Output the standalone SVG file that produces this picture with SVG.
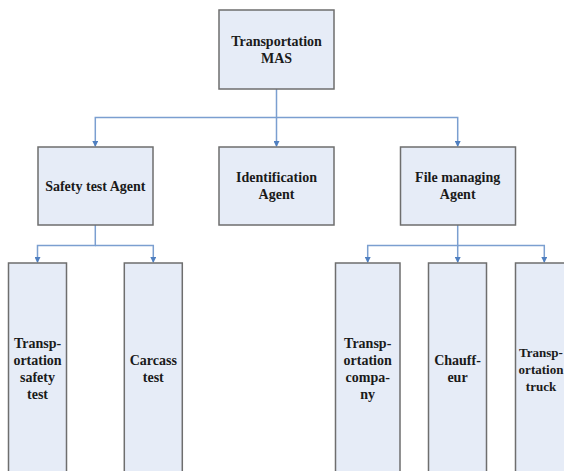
<svg xmlns="http://www.w3.org/2000/svg" width="564" height="471" viewBox="0 0 564 471">
<defs>
<style>
.box{fill:#E6ECF7;stroke:#6E6E6E;stroke-width:1.5}
.lbl{font-family:"Liberation Serif","Times New Roman",serif;font-weight:bold;font-size:14px;fill:#1a1a1a;text-anchor:middle}
.sm{font-size:13px}
.con{fill:none;stroke:#7B9FD0;stroke-width:1.5}
</style>
<marker id="ah" viewBox="0 0 6 6" refX="5" refY="3" markerWidth="4" markerHeight="4" orient="auto">
<path d="M0,0 L6,3 L0,6 z" fill="#4F7FC0"/>
</marker>
</defs>
<rect width="564" height="471" fill="#fff"/>
<g id="connectors">
<path class="con" d="M276.5,89 V117.5 H95.3 V146" marker-end="url(#ah)"/>
<path class="con" d="M276.5,117.5 V146" marker-end="url(#ah)"/>
<path class="con" d="M276.5,117.5 H457.7 V146" marker-end="url(#ah)"/>
<path class="con" d="M95.3,225 V245.5 H37.5 V262" marker-end="url(#ah)"/>
<path class="con" d="M95.3,245.5 H153.3 V262" marker-end="url(#ah)"/>
<path class="con" d="M457.7,225 V245.5 H367.7 V262" marker-end="url(#ah)"/>
<path class="con" d="M457.7,245.5 V262" marker-end="url(#ah)"/>
<path class="con" d="M457.7,245.5 H544.3 V262" marker-end="url(#ah)"/>
</g>
<g id="mas">
<rect class="box" x="219" y="10" width="115" height="79"/>
<text class="lbl" x="276.5" y="46">Transportation</text>
<text class="lbl" x="276.5" y="63">MAS</text>
</g>
<g id="safety">
<rect class="box" x="38" y="147" width="115" height="78"/>
<text class="lbl" x="95.3" y="191">Safety test Agent</text>
</g>
<g id="identification">
<rect class="box" x="219" y="147" width="115" height="78"/>
<text class="lbl" x="276.5" y="182">Identification</text>
<text class="lbl" x="276.5" y="199">Agent</text>
</g>
<g id="filemanaging">
<rect class="box" x="400.5" y="147" width="115" height="78"/>
<text class="lbl" x="457.7" y="182">File managing</text>
<text class="lbl" x="457.7" y="199">Agent</text>
</g>
<g id="tsafety">
<rect class="box" x="8.5" y="263" width="58" height="220"/>
<text class="lbl" x="37.5" y="348">Transp-</text>
<text class="lbl" x="37.5" y="365">ortation</text>
<text class="lbl" x="37.5" y="382">safety</text>
<text class="lbl" x="37.5" y="399">test</text>
</g>
<g id="carcass">
<rect class="box" x="124.3" y="263" width="58" height="220"/>
<text class="lbl" x="153.3" y="365">Carcass</text>
<text class="lbl" x="153.3" y="382">test</text>
</g>
<g id="tcompany">
<rect class="box" x="335.5" y="263" width="64.5" height="220"/>
<text class="lbl" x="367.7" y="348">Transp-</text>
<text class="lbl" x="367.7" y="365">ortation</text>
<text class="lbl" x="367.7" y="382">compa-</text>
<text class="lbl" x="367.7" y="399">ny</text>
</g>
<g id="chauffeur">
<rect class="box" x="428.5" y="263" width="58" height="220"/>
<text class="lbl" x="457.5" y="365">Chauff-</text>
<text class="lbl" x="457.5" y="382">eur</text>
</g>
<g id="ttruck">
<rect class="box" x="515.5" y="263" width="58" height="220"/>
<text class="lbl sm" x="541" y="357">Transp-</text>
<text class="lbl sm" x="541" y="374">ortation</text>
<text class="lbl sm" x="541" y="391">truck</text>
</g>
</svg>
